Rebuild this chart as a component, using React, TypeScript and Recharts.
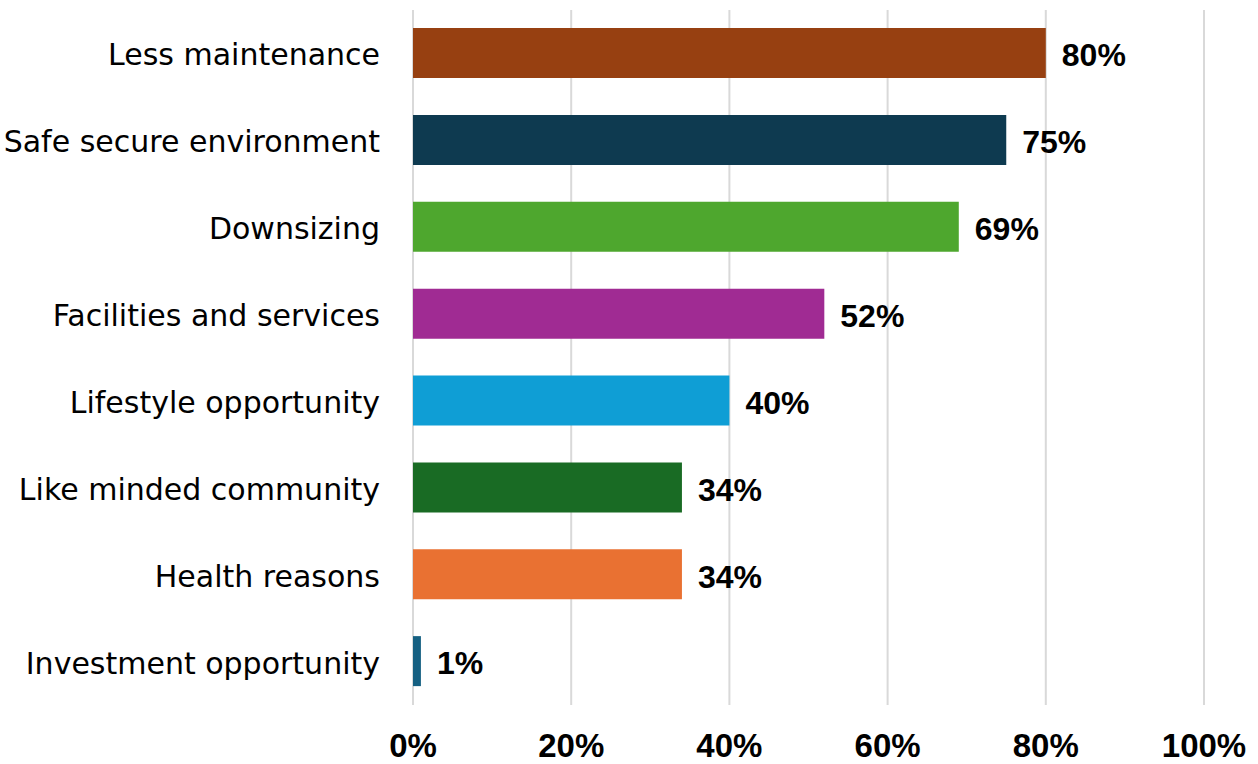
import React from "react";
import { BarChart, Bar, XAxis, YAxis, CartesianGrid, Cell, LabelList } from "recharts";

const categories = [
  "Less maintenance",
  "Safe secure environment",
  "Downsizing",
  "Facilities and services",
  "Lifestyle opportunity",
  "Like minded community",
  "Health reasons",
  "Investment opportunity",
];
const values = [80, 75, 69, 52, 40, 34, 34, 1];
const colors = ["#974011", "#0E3A50", "#4EA72E", "#A02B93", "#0F9ED5", "#196B24", "#E97132", "#156082"];
const xTicks = [0, 20, 40, 60, 80, 100];

const data = categories.map((c, i) => ({ name: c, value: values[i] }));

const YTick = (props: any) => {
  const { x, y, payload } = props;
  return (
    <text x={x} y={y} dy={12} textAnchor="end" fontFamily="DejaVu Sans" fontSize={30} fill="#000">
      {payload.value}
    </text>
  );
};

const XTick = (props: any) => {
  const { x, y, payload } = props;
  return (
    <text x={x} y={y} dy={44} textAnchor="middle" fontFamily="Liberation Sans" fontWeight="bold" fontSize={33} fill="#000">
      {payload.value}%
    </text>
  );
};

export default function App() {
  return (
    <div style={{ position: "absolute", left: 0, top: 0, background: "#fff" }}>
      <BarChart
        width={1258}
        height={764}
        data={data}
        layout="vertical"
        margin={{ top: 10, right: 54, bottom: 0, left: 0 }}
      >
        <CartesianGrid horizontal={false} vertical={true} stroke="#d9d9d9" strokeWidth={2} />
        <XAxis
          type="number"
          domain={[0, 100]}
          ticks={xTicks}
          axisLine={false}
          tickLine={false}
          height={59}
          tick={<XTick />}
          interval={0}
        />
        <YAxis
          type="category"
          dataKey="name"
          width={413}
          axisLine={false}
          tickLine={false}
          tickMargin={27}
          tick={<YTick />}
          interval={0}
        />
        <Bar dataKey="value" barSize={50} isAnimationActive={false}>
          {data.map((d, i) => (
            <Cell key={d.name} fill={colors[i]} />
          ))}
          <LabelList
            dataKey="value"
            position="right"
            offset={16}
            formatter={(v: any) => `${v}%`}
            style={{ fontFamily: "Liberation Sans", fontWeight: "bold", fontSize: 32, fill: "#000" }}
            dy={2}
          />
        </Bar>
      </BarChart>
    </div>
  );
}
